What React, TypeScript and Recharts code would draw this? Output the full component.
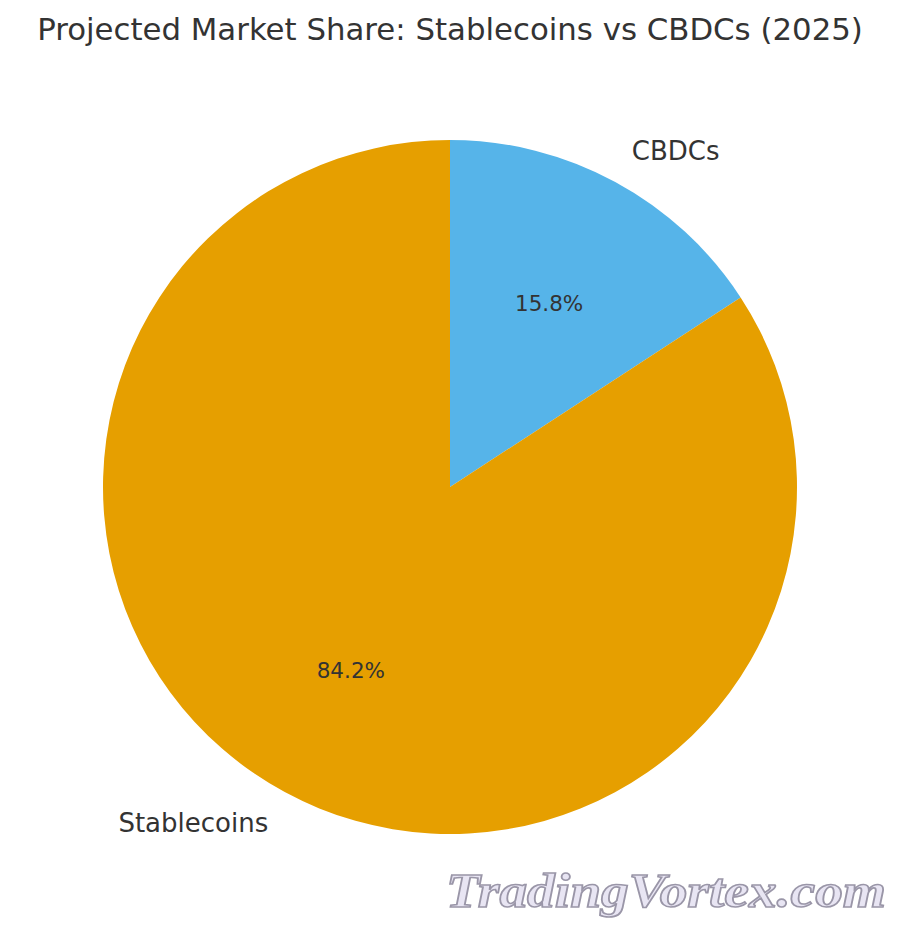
import { PieChart, Pie, Cell } from "recharts";

const categories = ["CBDCs", "Stablecoins"];
const shares = [15.8, 84.2];
const sliceColors = ["#56B4E9", "#E69F00"];

const chartData = categories.map((name, i) => ({ name, value: shares[i] }));

const FONT = "DejaVu Sans, sans-serif";
const RAD = Math.PI / 180;

// name outside at 1.1r, percent inside at 0.6r (matplotlib style)
const renderLabel = (props: any) => {
  const { cx, cy, midAngle, outerRadius, percent, name } = props;
  const cos = Math.cos(-midAngle * RAD);
  const sin = Math.sin(-midAngle * RAD);
  const ox = cx + outerRadius * 1.1 * cos;
  const oy = cy + outerRadius * 1.1 * sin;
  const ix = cx + outerRadius * 0.6 * cos;
  const iy = cy + outerRadius * 0.6 * sin;
  return (
    <g>
      <text
        x={ox}
        y={oy}
        textAnchor={cos >= 0 ? "start" : "end"}
        dominantBaseline="central"
        fill="#333333"
        fontSize={26}
        fontFamily={FONT}
      >
        {name}
      </text>
      <text
        x={ix}
        y={iy}
        textAnchor="middle"
        dominantBaseline="central"
        fill="#333333"
        fontSize={21.5}
        fontFamily={FONT}
      >
        {`${(percent * 100).toFixed(1)}%`}
      </text>
    </g>
  );
};

export default function App() {
  return (
    <div
      style={{
        position: "absolute",
        left: 0,
        top: 0,
        width: 900,
        height: 937,
        background: "#ffffff",
      }}
    >
      <PieChart
        width={900}
        height={937}
        margin={{ top: 0, right: 0, bottom: 0, left: 0 }}
      >
        <Pie
          data={chartData}
          dataKey="value"
          nameKey="name"
          cx={450}
          cy={487}
          outerRadius={347}
          startAngle={90}
          endAngle={-270}
          stroke="none"
          label={renderLabel}
          labelLine={false}
          isAnimationActive={false}
        >
          {chartData.map((d, i) => (
            <Cell key={d.name} fill={sliceColors[i]} />
          ))}
        </Pie>
      </PieChart>
      <svg
        width={900}
        height={937}
        style={{ position: "absolute", left: 0, top: 0, pointerEvents: "none" }}
      >
        <text
          x={450}
          y={40}
          textAnchor="middle"
          fill="#333333"
          fontSize={30.8}
          fontFamily={FONT}
        >
          Projected Market Share: Stablecoins vs CBDCs (2025)
        </text>
        {/* watermark */}
        <text
          x={446}
          y={907}
          textLength={440}
          lengthAdjust="spacingAndGlyphs"
          fill="#e6e2f2"
          fillOpacity={0.9}
          stroke="#9a96a8"
          strokeWidth={1.6}
          fontSize={48}
          fontWeight="bold"
          fontStyle="italic"
          fontFamily="Liberation Serif, serif"
        >
          TradingVortex.com
        </text>
      </svg>
    </div>
  );
}
